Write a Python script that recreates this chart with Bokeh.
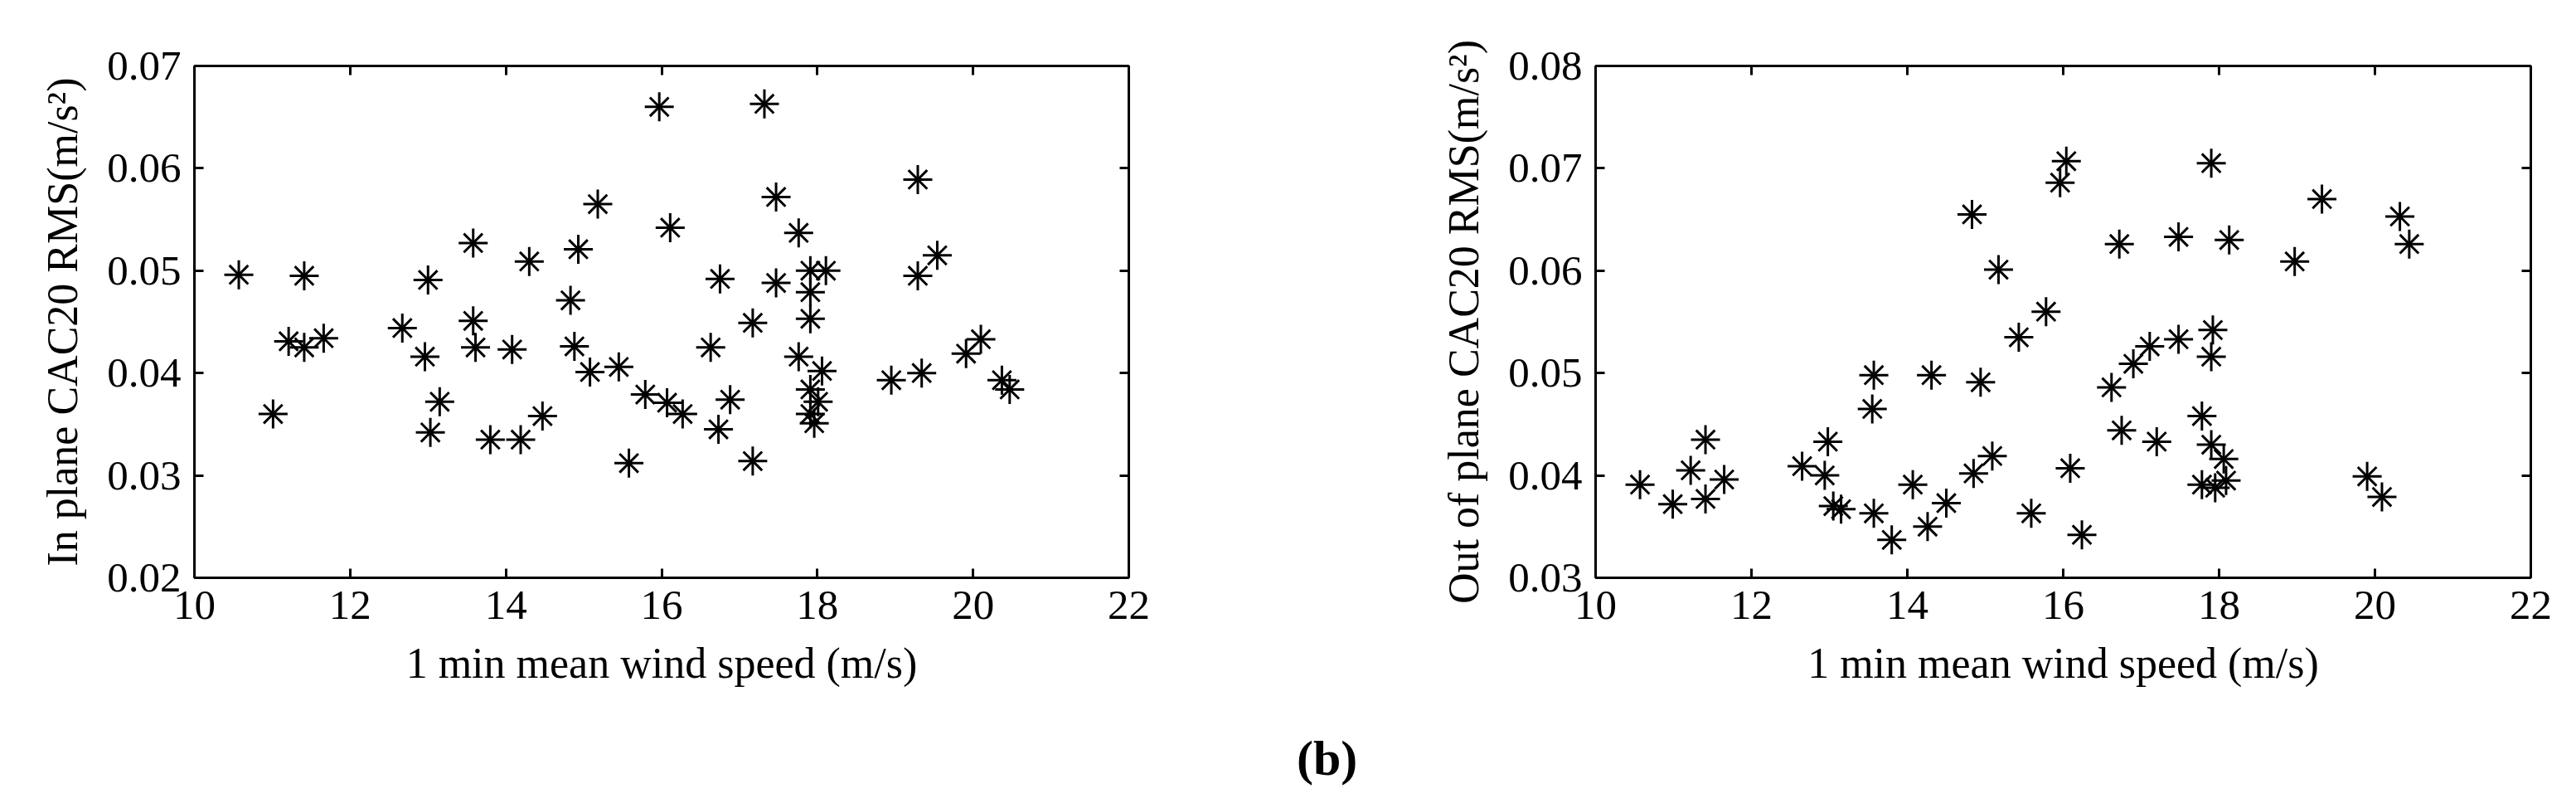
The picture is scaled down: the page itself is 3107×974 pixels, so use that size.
from bokeh.plotting import figure
from bokeh.models import Range1d, LinearAxis, FixedTicker, PrintfTickFormatter, Div
from bokeh.layouts import row, column
from bokeh.embed import file_html
from bokeh.resources import INLINE

# ---- data ----
wind_in = [10.57, 11.41, 11.21, 11.41, 11.66, 11.01, 12.67, 12.96, 13.00, 13.03,
           13.15, 13.58, 13.58, 13.61, 13.80, 14.08, 14.19, 14.30, 14.47, 14.83,
           14.88, 14.93, 15.08, 15.18, 15.45, 15.58, 15.79, 15.97, 16.07, 16.11,
           16.27, 16.63, 16.73, 16.75, 16.88, 17.17, 17.17, 17.32, 17.47, 17.47,
           17.76, 17.76, 17.91, 17.91, 17.91, 17.91, 17.91, 17.96, 18.01, 18.06,
           18.11, 18.95, 19.29, 19.29, 19.34, 19.54, 19.91, 20.10, 20.37, 20.47]
rms_in = [0.0496, 0.0495, 0.0431, 0.0425, 0.0434, 0.0360, 0.0444, 0.0416, 0.0491, 0.0342,
          0.0372, 0.0527, 0.0451, 0.0425, 0.0335, 0.0423, 0.0335, 0.0509, 0.0358, 0.0471,
          0.0426, 0.0521, 0.0401, 0.0565, 0.0406, 0.0312, 0.0379, 0.0660, 0.0371, 0.0542,
          0.0360, 0.0425, 0.0345, 0.0492, 0.0374, 0.0449, 0.0314, 0.0663, 0.0572, 0.0488,
          0.0537, 0.0416, 0.0500, 0.0479, 0.0453, 0.0384, 0.0360, 0.0351, 0.0372, 0.0402,
          0.0500, 0.0393, 0.0495, 0.0589, 0.0400, 0.0515, 0.0419, 0.0433, 0.0393, 0.0384]

wind_out = [10.57, 10.99, 11.22, 11.41, 11.41, 11.65, 12.65, 12.94, 12.98, 13.05,
            13.15, 13.57, 13.55, 13.57, 13.80, 14.07, 14.26, 14.31, 14.50, 14.83,
            14.85, 14.94, 15.09, 15.17, 15.43, 15.59, 15.78, 15.96, 16.04, 16.09,
            16.24, 16.62, 16.72, 16.75, 16.90, 17.11, 17.20, 17.48, 17.48, 17.78,
            17.78, 17.90, 17.92, 17.90, 17.90, 17.95, 18.06, 18.09, 18.13, 18.97,
            19.32, 19.90, 20.09, 20.32, 20.44]
rms_out = [0.0391, 0.0372, 0.0405, 0.0435, 0.0377, 0.0396, 0.0409, 0.0400, 0.0433, 0.0370,
           0.0367, 0.0498, 0.0465, 0.0363, 0.0337, 0.0391, 0.0350, 0.0498, 0.0373, 0.0655,
           0.0402, 0.0491, 0.0419, 0.0601, 0.0535, 0.0363, 0.0560, 0.0686, 0.0707, 0.0407,
           0.0342, 0.0486, 0.0626, 0.0444, 0.0509, 0.0526, 0.0433, 0.0633, 0.0533, 0.0458,
           0.0391, 0.0705, 0.0542, 0.0516, 0.0430, 0.0388, 0.0416, 0.0395, 0.0630, 0.0609,
           0.0670, 0.0399, 0.0379, 0.0653, 0.0626]

x_ticks = [10, 12, 14, 16, 18, 20, 22]
y_ticks_in = [0.02, 0.03, 0.04, 0.05, 0.06, 0.07]
y_ticks_out = [0.03, 0.04, 0.05, 0.06, 0.07, 0.08]

x_title = "1 min mean wind speed (m/s)"
y_title_in = "In plane CAC20 RMS(m/s\u00b2)"
y_title_out = "Out of plane CAC20 RMS(m/s\u00b2)"
panel_tag = "(b)"

FONT = "Liberation Serif"
TICK_FS = "51px"
TITLE_FS = "52px"


def style_axis(ax, ticks, fmt, hidden=False):
    ax.ticker = FixedTicker(ticks=ticks)
    ax.formatter = PrintfTickFormatter(format=fmt)
    ax.axis_line_color = "black"
    ax.axis_line_width = 3
    ax.major_tick_line_color = "black"
    ax.major_tick_line_width = 3
    ax.major_tick_in = 11
    ax.major_tick_out = 0
    ax.minor_tick_line_color = None
    ax.major_label_text_font = FONT
    ax.major_label_text_color = "black"
    ax.axis_label_text_font = FONT
    ax.axis_label_text_font_style = "normal"
    ax.axis_label_text_font_size = TITLE_FS
    ax.axis_label_text_color = "black"
    if hidden:
        ax.major_label_text_font_size = "0px"
        ax.major_label_standoff = 0
        ax.major_label_text_alpha = 0
    else:
        ax.major_label_text_font_size = TICK_FS
        ax.major_label_standoff = 16


def make(width, bl, br, yr, yticks, ytitle, xs, ys):
    p = figure(width=width, height=852, x_range=Range1d(10, 22), y_range=Range1d(*yr),
               output_backend="svg", toolbar_location=None,
               min_border_left=bl, min_border_right=br, min_border_top=79, min_border_bottom=156)
    p.xgrid.visible = False
    p.ygrid.visible = False
    p.outline_line_color = "black"
    p.outline_line_width = 2
    p.background_fill_color = "white"
    p.border_fill_color = "white"

    style_axis(p.xaxis[0], x_ticks, "%d")
    style_axis(p.yaxis[0], yticks, "%.2f")
    p.xaxis[0].axis_label = x_title
    p.yaxis[0].axis_label = ytitle
    p.xaxis[0].axis_label_standoff = 22
    p.yaxis[0].axis_label_standoff = 22

    top = LinearAxis()
    style_axis(top, x_ticks, "%d", hidden=True)
    p.add_layout(top, "above")
    right = LinearAxis()
    style_axis(right, yticks, "%.2f", hidden=True)
    p.add_layout(right, "right")

    p.scatter(xs, ys, marker="cross", size=35, line_color="black", line_width=3)
    p.scatter(xs, ys, marker="x", size=32, line_color="black", line_width=3)
    return p


p1 = make(1552, 234, 191, (0.02, 0.07), y_ticks_in, y_title_in, wind_in, rms_in)
p2 = make(1539, 372, 39, (0.03, 0.08), y_ticks_out, y_title_out, wind_out, rms_out)

tag = Div(
    text=('<div style="padding-left:1559px; padding-top:22px; line-height:70px; '
          'font-family:\'Liberation Serif\'; font-weight:bold; font-size:60px; color:black;">'
          + panel_tag + '</div>'),
    width=3091, height=106)

layout = column(row(p1, p2), tag)
open("out.html", "w").write(file_html(layout, INLINE))
